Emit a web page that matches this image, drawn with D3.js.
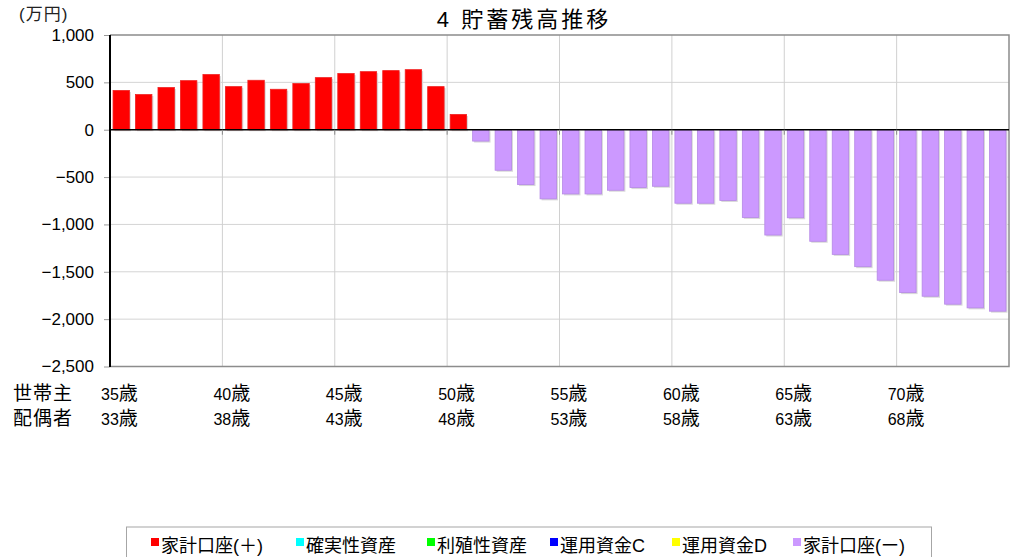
<!DOCTYPE html>
<html><head><meta charset="utf-8">
<script src="https://cdn.jsdelivr.net/npm/d3@7"></script>
<style>
html,body{margin:0;padding:0;background:#fff;}
svg{display:block;font-family:"Liberation Sans","Noto Sans CJK JP",sans-serif;}
</style></head>
<body>
<svg id="c" width="1020" height="557"></svg>
<script>
// ---- data ----
const title = "4 貯蓄残高推移";
const unitLabel = "(万円)";
const headAges = d3.range(35, 75);            // 世帯主 ages (categories)
const spouseAges = headAges.map(a => a - 2);  // 配偶者 ages
const rowLabels = ["世帯主", "配偶者"];
const plusValues = [414,371,445,518,582,455,522,427,487,550,593,613,624,634,455,161,
  0,0,0,0,0,0,0,0,0,0,0,0,0,0,0,0,0,0,0,0,0,0,0,0];
const minusValues = [0,0,0,0,0,0,0,0,0,0,0,0,0,0,0,0,
  -120,-428,-579,-730,-678,-678,-639,-611,-597,-776,-776,-747,-926,-1112,-930,-1178,-1316,-1446,-1589,-1720,-1758,-1842,-1881,-1916];
const yTicks = [1000,500,0,-500,-1000,-1500,-2000,-2500];
const labelStep = 5;
const legendNames = ["家計口座(＋)","確実性資産","利殖性資産","運用資金C","運用資金D","家計口座(ー)"];
const legendColors = ["#FF0000","#00FFFF","#00FF00","#0000FF","#FFFF00","#CC99FF"];

// ---- layout ----
const svg = d3.select("#c");
const L = 110, R = 1009, T = 35, B = 366.5;
const x = d3.scaleBand().domain(headAges).range([L, R]).paddingInner(0.27).paddingOuter(0.135);
const y = d3.scaleLinear().domain([-2500, 1000]).range([B, T]);
const fmt = d3.format(",");

// gridlines horizontal
svg.append("g").selectAll("line").data(yTicks.filter(v => v !== 0 && v !== 1000 && v !== -2500)).join("line")
  .attr("x1", L).attr("x2", R).attr("y1", d => y(d)).attr("y2", d => y(d))
  .attr("stroke", "#d4d4d4").attr("stroke-width", 1);
// vertical gridlines every 5 categories
const step = (R - L) / headAges.length;
const vIdx = d3.range(labelStep, headAges.length, labelStep);
svg.append("g").selectAll("line").data(vIdx).join("line")
  .attr("x1", i => L + i * step).attr("x2", i => L + i * step)
  .attr("y1", T).attr("y2", B).attr("stroke", "#d0d0d0").attr("stroke-width", 1);

// frame (top, right, bottom)
svg.append("path").attr("d", `M${L},${T}H${R}V${B}H${L}`).attr("fill", "none")
  .attr("stroke", "#8c8c8c").attr("stroke-width", 1.5);

// bars helper
function bars(vals, fill, stroke) {
  const data = vals.map((v, i) => ({ k: headAges[i], v })).filter(d => d.v !== 0);
  const g = svg.append("g");
  g.selectAll("rect.sh").data(data).join("rect").attr("class", "sh")
    .attr("x", d => x(d.k) + 1.5).attr("width", x.bandwidth())
    .attr("y", d => Math.min(y(d.v), y(0)) + 1.5).attr("height", d => Math.abs(y(d.v) - y(0)))
    .attr("fill", "#d9d9d9");
  g.selectAll("rect.b").data(data).join("rect").attr("class", "b")
    .attr("x", d => x(d.k)).attr("width", x.bandwidth())
    .attr("y", d => Math.min(y(d.v), y(0))).attr("height", d => Math.abs(y(d.v) - y(0)))
    .attr("fill", fill).attr("stroke", stroke).attr("stroke-width", 0.8);
}
bars(plusValues, legendColors[0], "#f02020");
bars(minusValues, legendColors[5], "#b588e6");

// zero line
svg.append("line").attr("x1", L).attr("x2", R).attr("y1", y(0)).attr("y2", y(0))
  .attr("stroke", "#000").attr("stroke-width", 1.5);
// small ticks on zero line
svg.append("g").selectAll("line").data(vIdx).join("line")
  .attr("x1", i => L + i * step).attr("x2", i => L + i * step)
  .attr("y1", y(0)).attr("y2", y(0) + 5).attr("stroke", "#888").attr("stroke-width", 1);

// y axis
const yAxis = svg.append("g").attr("transform", `translate(${L},0)`)
  .call(d3.axisLeft(y).tickValues(yTicks).tickFormat(fmt).tickSize(6).tickPadding(10));
yAxis.select(".domain").remove();
yAxis.selectAll(".tick line").attr("stroke", "#999");
yAxis.selectAll(".tick text").attr("font-size", 17).attr("fill", "#000")
  .attr("font-family", "'Liberation Sans',sans-serif");
svg.append("line").attr("x1", L).attr("x2", L).attr("y1", T).attr("y2", B + 0.5)
  .attr("stroke", "#000").attr("stroke-width", 2);

// title
svg.append("text").attr("x", 524).attr("y", 27).attr("text-anchor", "middle")
  .attr("font-size", 22).attr("letter-spacing", 3).attr("fill", "#000").text(title);
svg.append("text").attr("x", 19).attr("y", 20).attr("font-size", 17).attr("letter-spacing", 1)
  .attr("fill", "#222").text(unitLabel);

// age rows
const rowsY = [400, 425];
rowLabels.forEach((t, r) => {
  svg.append("text").attr("x", 13).attr("y", rowsY[r]).attr("font-size", 19)
    .attr("letter-spacing", 1).attr("fill", "#000").text(t);
});
const lblIdx = d3.range(0, headAges.length, labelStep);
[headAges, spouseAges].forEach((arr, r) => {
  const t = svg.append("g").selectAll("text").data(lblIdx).join("text")
    .attr("x", i => L + i * step - 9).attr("y", rowsY[r]).attr("font-size", 16).attr("fill", "#000");
  t.append("tspan").text(i => arr[i]);
  t.append("tspan").attr("font-size", 19).text("歳");
});

// legend
svg.append("rect").attr("x", 126.5).attr("y", 527).attr("width", 805).attr("height", 40)
  .attr("fill", "#fff").attr("stroke", "#a6a6a6").attr("stroke-width", 1);
const legX = [151, 296, 427, 550, 672, 793];
const lg = svg.append("g").selectAll("g").data(legendNames).join("g")
  .attr("transform", (d, i) => `translate(${legX[i]},538)`);
lg.append("rect").attr("width", 8).attr("height", 8).attr("fill", (d, i) => legendColors[i]);
lg.append("text").attr("x", 10).attr("y", 13.5).attr("font-size", 18).attr("fill", "#000").text(d => d);
</script>
</body></html>
